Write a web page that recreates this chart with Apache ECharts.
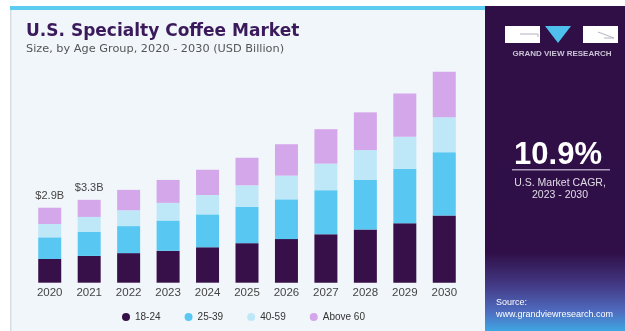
<!DOCTYPE html>
<html>
<head>
<meta charset="utf-8">
<script src="https://cdn.jsdelivr.net/npm/echarts@6/dist/echarts.min.js"></script>
<style>
html,body{margin:0;padding:0;background:#ffffff;}
#chart{width:625px;height:331px;}
</style>
</head>
<body>
<div id="chart"></div>
<script>
const years = ['2020','2021','2022','2023','2024','2025','2026','2027','2028','2029','2030'];
const seriesNames = ['18-24','25-39','40-59','Above 60'];
const age18to24 = [0.93,1.05,1.16,1.25,1.39,1.55,1.71,1.90,2.09,2.33,2.64];
const age25to39 = [0.85,0.95,1.06,1.19,1.29,1.42,1.56,1.73,1.95,2.14,2.48];
const age40to59 = [0.52,0.58,0.62,0.69,0.76,0.85,0.93,1.04,1.16,1.25,1.37];
const ageAbove60 = [0.64,0.67,0.80,0.90,0.99,1.08,1.23,1.35,1.48,1.70,1.78];
const totalLabels = ['$2.9B','$3.3B'];
const title = 'U.S. Specialty Coffee Market';
const subtitle = 'Size, by Age Group, 2020 - 2030 (USD Billion)';
const cagrValue = '10.9%';
const cagrText = 'U.S. Market CAGR,\n2023 - 2030';
const brand = 'GRAND VIEW RESEARCH';
const sourceText = 'Source:\nwww.grandviewresearch.com';

const colors = ['#37104a','#58c8f2','#bee8f8','#d4a6ea'];
const values = [age18to24, age25to39, age40to59, ageAbove60];

const chart = echarts.init(document.getElementById('chart'), null, {renderer:'canvas'});

const series = values.map((arr, si) => ({
  name: seriesNames[si],
  type: 'bar',
  stack: 'total',
  barWidth: 23,
  itemStyle: { color: colors[si] },
  data: arr.map((v, i) => {
    if (si === 3 && i < totalLabels.length) {
      return { value: v, label: { show: true, position: 'top', distance: 6, formatter: totalLabels[i],
        color: '#444', fontSize: 11, fontFamily: 'Liberation Sans' } };
    }
    return v;
  })
}));

const option = {
  animation: false,
  backgroundColor: '#ffffff',
  textStyle: { fontFamily: 'Liberation Sans' },
  grid: { left: 30, width: 434, top: 27.7, height: 255 },
  xAxis: {
    type: 'category',
    data: years,
    axisLine: { show: false },
    axisTick: { show: false },
    axisLabel: { color: '#444', fontSize: 11.5, margin: 4, fontFamily: 'Liberation Sans' }
  },
  yAxis: { type: 'value', min: 0, max: 10, show: false, splitLine: { show: false } },
  legend: {
    data: seriesNames,
    left: 117,
    top: 307,
    icon: 'circle',
    itemWidth: 8,
    itemHeight: 8,
    itemGap: 24,
    textStyle: { color: '#333', fontSize: 10, fontFamily: 'Liberation Sans' }
  },
  series: series,
  graphic: [
    { type: 'rect', shape: { x: 10, y: 7, width: 476, height: 324 }, style: { fill: '#f1f6fa' }, z: -10 },
    { type: 'rect', shape: { x: 10, y: 7, width: 1.5, height: 324 }, style: { fill: '#d8dde3' }, z: -9 },
    { type: 'rect', shape: { x: 10, y: 6, width: 476, height: 4 }, style: { fill: '#5ecbf0' }, z: -9 },
    { type: 'rect', shape: { x: 485, y: 6, width: 140, height: 325 },
      style: { fill: new echarts.graphic.LinearGradient(0, 0, 0, 1, [
        { offset: 0, color: '#2f0f45' },
        { offset: 0.76, color: '#300f48' },
        { offset: 0.86, color: '#433a86' },
        { offset: 0.94, color: '#4f6cbf' },
        { offset: 1, color: '#3ea6e2' }
      ]) }, z: -9 },
    { type: 'text', left: 26, top: 23, style: { text: title, fill: '#3b1a5c', fontSize: 17, fontWeight: 'bold', fontFamily: 'DejaVu Sans' }, z: 5 },
    { type: 'text', left: 26, top: 44, style: { text: subtitle, fill: '#555', fontSize: 11.3, fontFamily: 'DejaVu Sans' }, z: 5 },
    { type: 'rect', shape: { x: 505, y: 26, width: 35, height: 17 }, style: { fill: '#ffffff' }, z: 5 },
    { type: 'rect', shape: { x: 583, y: 26, width: 35, height: 17 }, style: { fill: '#ffffff' }, z: 5 },
    { type: 'polyline', shape: { points: [[520, 34], [538, 34], [538, 37]] }, style: { stroke: '#b8b0c4', lineWidth: 1, fill: null }, z: 6 },
    { type: 'polyline', shape: { points: [[598, 32], [614, 38], [604, 38]] }, style: { stroke: '#b8b0c4', lineWidth: 1, fill: null }, z: 6 },
    { type: 'polygon', shape: { points: [[545, 26], [571, 26], [558, 43]] }, style: { fill: '#4fbfee' }, z: 5 },
    { type: 'text', x: 562, y: 54, style: { text: brand, fill: '#c9c3d4', fontSize: 8, fontWeight: 'bold', align: 'center', verticalAlign: 'middle', fontFamily: 'Liberation Sans' }, z: 5 },
    { type: 'text', x: 558, y: 155, style: { text: cagrValue, fill: '#ffffff', fontSize: 31, fontWeight: 'bold', align: 'center', verticalAlign: 'middle', fontFamily: 'Liberation Sans' }, z: 5 },
    { type: 'rect', shape: { x: 512, y: 169, width: 98, height: 1.5 }, style: { fill: '#a99bbb' }, z: 5 },
    { type: 'text', x: 560, y: 189, style: { text: cagrText, fill: '#e0dbe6', fontSize: 10.5, lineHeight: 12, align: 'center', verticalAlign: 'middle', fontFamily: 'Liberation Sans' }, z: 5 },
    { type: 'text', x: 496, y: 309, style: { text: sourceText, fill: '#ffffff', fontSize: 9, lineHeight: 12, align: 'left', verticalAlign: 'middle', fontFamily: 'Liberation Sans' }, z: 5 }
  ]
};
chart.setOption(option);
</script>
</body>
</html>
